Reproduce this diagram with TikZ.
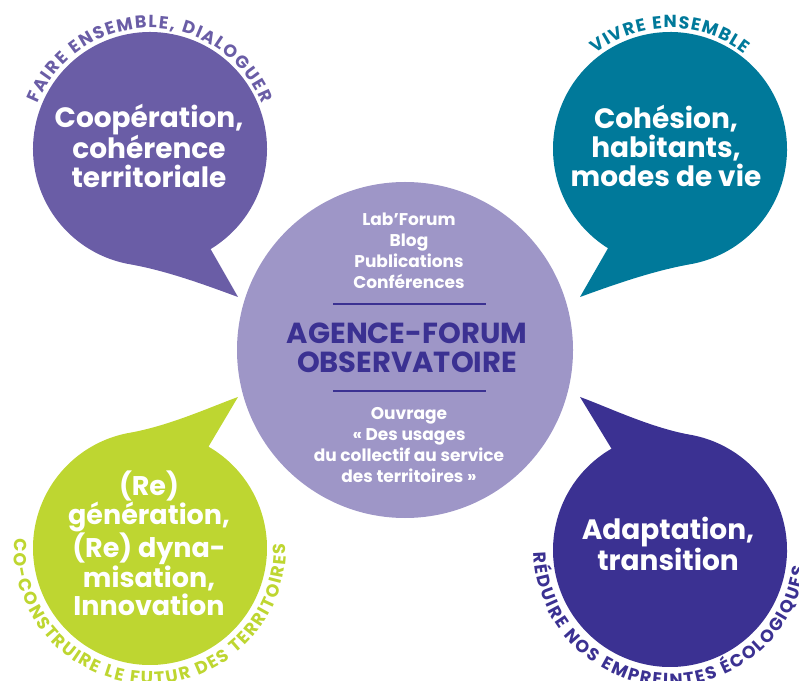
\documentclass[tikz,border=0pt]{standalone}
\usepackage{fontspec}
\setmainfont{Poppins}
\usetikzlibrary{decorations.text}
\definecolor{violetA}{RGB}{106,93,166}
\definecolor{lavande}{RGB}{158,150,199}
\definecolor{petrole}{RGB}{0,121,154}
\definecolor{anis}{RGB}{190,214,49}
\definecolor{indigo}{RGB}{59,49,146}
\tikzset{bulle/.style={fill=#1},
  gros/.style={text=white, align=center, font=\bfseries\fontsize{28}{29}\selectfont},
  petit/.style={text=white, align=center, font=\bfseries\fontsize{17}{21}\selectfont},
  titre/.style={text=indigo, align=center, font=\bfseries\fontsize{29}{29}\selectfont},
  arctexte/.style 2 args={decorate, decoration={text along path, text align=fit to path,
    text color=#1, text={|\bfseries\fontsize{17.5}{18}\selectfont|#2}}}}

\begin{document}
\begin{tikzpicture}[x=1pt, y=1pt]
\useasboundingbox (0,0) rectangle (799,680);
\coordinate (tl) at (150,531);
\coordinate (tr) at (670,531);
\coordinate (bl) at (150,132);
\coordinate (br) at (670,130);
\coordinate (tlpt) at (238,383);
\coordinate (trpt) at (580,383);
\coordinate (blpt) at (238,283);
\coordinate (brpt) at (580,283);

\fill[bulle=violetA] (tlpt) -- ([shift={(-58.8:117)}]tl) arc[start angle=-58.8, end angle=260, radius=117]
  .. controls +(350:40) and +(160:30) .. (tlpt) -- cycle;
\fill[bulle=petrole] (trpt) -- ([shift={(238:117)}]tr) arc[start angle=238, end angle=-80, radius=117]
  .. controls +(190:40) and +(20:30) .. (trpt) -- cycle;
\fill[bulle=anis] (blpt) -- ([shift={(60:117)}]bl) arc[start angle=60, end angle=-260, radius=117]
  .. controls +(10:40) and +(200:30) .. (blpt) -- cycle;
\fill[bulle=indigo] (brpt) -- ([shift={(120:117)}]br) arc[start angle=120, end angle=440, radius=117]
  .. controls +(170:40) and +(-20:30) .. (brpt) -- cycle;

\path[arctexte={violetA}{FAIRE ENSEMBLE, DIALOGUER}] ([shift={(158:121)}]tl) arc[start angle=158, end angle=22, radius=121];
\path[arctexte={petrole}{VIVRE ENSEMBLE}] ([shift={(128:121)}]tr) arc[start angle=128, end angle=52, radius=121];
\path[arctexte={anis}{CO-CONSTRUIRE LE FUTUR DES TERRITOIRES}] ([shift={(176:136)}]bl) arc[start angle=176, end angle=362, radius=136];
\path[arctexte={indigo}{RÉDUIRE NOS EMPREINTES ÉCOLOGIQUES}] ([shift={(181:136)}]br) arc[start angle=181, end angle=353, radius=136];

\node[gros] (cooperation) at (149,534) {Coopération,\\cohérence\\territoriale};
\node[gros] (cohesion) at (666,534) {Cohésion,\\habitants,\\modes de vie};
\node[gros, font=\bfseries\fontsize{27}{28}\selectfont] (generation) at (149,137) {(Re)\\génération,\\(Re) dyna-\\misation,\\Innovation};
\node[gros] (adaptation) at (668,136) {Adaptation,\\transition};

\node[circle, fill=lavande, minimum size=336pt, inner sep=0pt] (forum) at (405,330) {};
\node[petit] (outils) at (409,429) {Lab’Forum\\Blog\\Publications\\Conférences};
\node[titre] (agence) at (407,332) {AGENCE-FORUM\\OBSERVATOIRE};
\node[petit] (ouvrage) at (409,235) {Ouvrage\\« Des usages\\du collectif au service\\des territoires »};
\draw[indigo, line width=1.2pt] (333,376) -- (486,376);
\draw[indigo, line width=1.2pt] (333,289) -- (486,289);
\end{tikzpicture}
\end{document}
